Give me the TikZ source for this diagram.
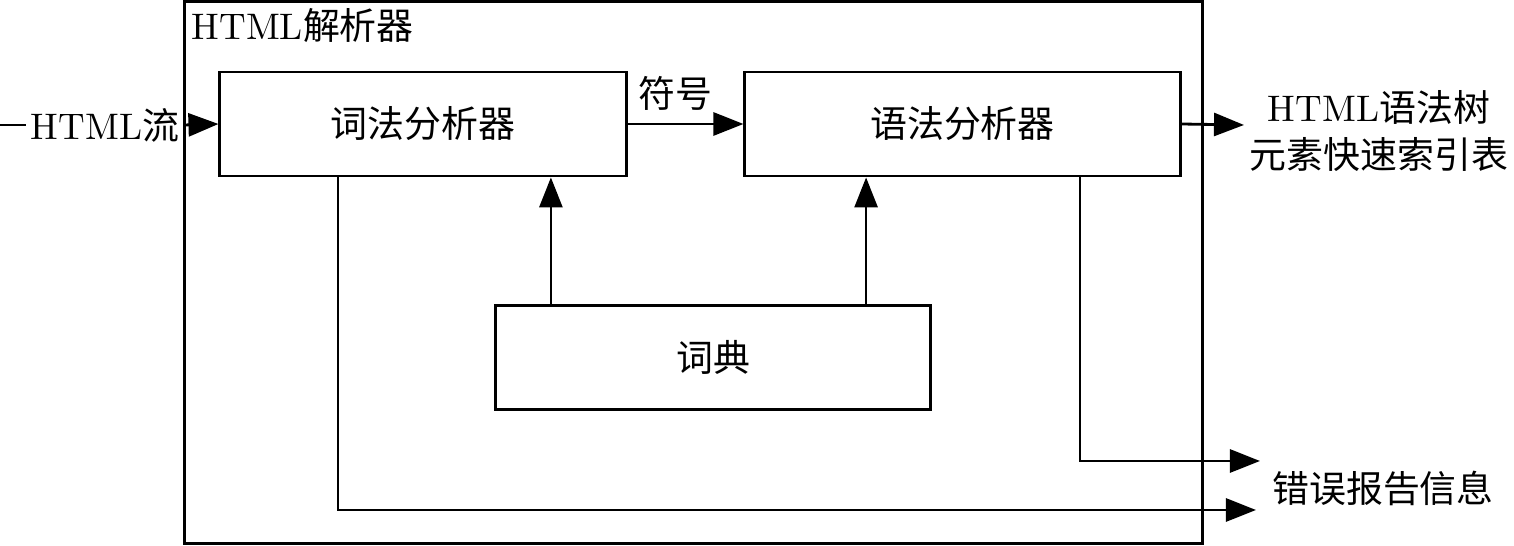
\documentclass[tikz,border=0pt]{standalone}
\usepackage{fontspec}
\newfontfamily\cjk{Noto Sans CJK SC}
\newcommand\zh[1]{{\cjk #1}}
\usetikzlibrary{arrows.meta}

\begin{document}
\begin{tikzpicture}[x=0.01cm,y=-0.01cm,line width=.8pt,
  font=\fontsize{10.5}{13.6}\selectfont,
  block/.style={draw,minimum height=1.04cm,inner sep=0pt},
  flow/.style={-{Triangle[length=0.3cm,width=0.23cm]}}]
\useasboundingbox (0,0) rectangle (1514,546);
% frame and blocks
\node[draw,minimum width=10.17cm,minimum height=5.41cm] (frame) at (693.5,272.5) {};
\node[anchor=north west,inner sep=2pt] (title) at (frame.north west) {HTML\zh{解析器}};
\node[block,minimum width=4.06cm] (lexer) at (423,124) {\zh{词法分析器}};
\node[block,minimum width=4.35cm] (parser) at (962.5,124) {\zh{语法分析器}};
\node[block,minimum width=4.34cm] (dict) at (713,357.5) {\zh{词典}};
% outside texts
\coordinate (in) at (0,125);
\coordinate (outtip) at (1244,125);
\coordinate (err1) at (1260,461);
\coordinate (err2) at (1256,510);
\node[inner sep=1pt] (src) at (105,125) {HTML\zh{流}};
\node[align=center] (result) at (1379,131) {HTML\zh{语法树}\\\zh{元素快速索引表}};
\node (errmsg) at (1383,488) {\zh{错误报告信息}};
% connectors
\draw (in) -- (src.west);
\draw[flow] (src.east) -- (lexer.west);
\draw[flow] (lexer.east) -- node[above,xshift=-0.1cm] (token) {\zh{符号}} (parser.west);
\draw[flow] (parser.east) -- (outtip);
\draw[flow] ([xshift=-1.62cm]dict.north) -- ([xshift=-1.62cm]dict.north |- lexer.south);
\draw[flow] ([xshift=1.53cm]dict.north) -- ([xshift=1.53cm]dict.north |- parser.south);
\draw[flow] ([xshift=1.175cm]parser.south) |- (err1);
\draw[flow] ([xshift=-0.85cm]lexer.south) |- (err2);
\end{tikzpicture}
\end{document}
